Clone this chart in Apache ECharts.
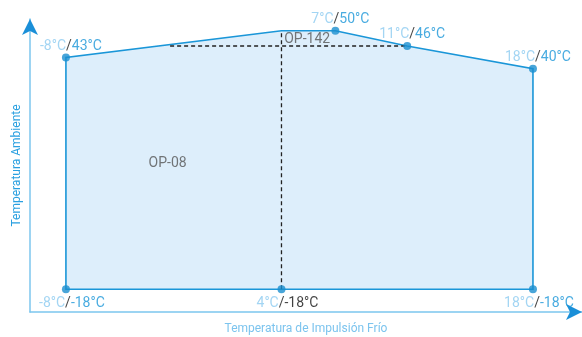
<!DOCTYPE html>
<html>
<head>
<meta charset="utf-8">
<script src="https://cdn.jsdelivr.net/npm/echarts@6/dist/echarts.min.js"></script>
<style>
  html, body { margin: 0; padding: 0; background: #fff; }
  #box1 { width: 582px; height: 337px; }
</style>
</head>
<body>
<div id="box1"></div>
<script>
// envelope vertices: temperatura de impulsión (x) / temperatura ambiente (y)
var envX = [-8, -8, 4, 7, 11, 18, 18, 4];
var envY = [-18, 43, 50, 50, 46, 40, -18, -18];
// vertices that carry a dot and a label
var markIdx = [0, 1, 3, 4, 5, 6, 7];
// dashed guides
var guideV = [[4, -18], [4, 50]];
var guideH = [[-2.2, 46], [11, 46]];
// zone names
var zoneNames = ['OP-142', 'OP-08'];
var zoneX = [4.15, -3.4];
var zoneY = [47.6, 15.2];

var chartDom = document.getElementById('box1');
var myChart = echarts.init(chartDom);
var fontFam = 'Roboto, "Noto Sans", sans-serif';
var lineBlue = '#1a96d8';
var xMin = -10, xMax = 20.73, yMin = -24, yMax = 53.1;

var markData = markIdx.map(function (i) {
    return { value: [envX[i], envY[i]], top: envY[i] > 0, dark: envX[i] === guideV[0][0] };
});

function hidden() {
    return { axisTick: { show: false }, axisLabel: { show: false }, splitLine: { show: false } };
}
function mkAxis(base, extra) {
    return Object.assign(hidden(), base, extra);
}

var option = {
    animation: false,
    grid: { left: 30, right: 0, top: 19, bottom: 25, containLabel: false, outerBoundsMode: 'none' },
    xAxis: [
        mkAxis({ type: 'value', min: xMin, max: xMax }, {
            name: 'Temperatura de Impulsión Frío',
            nameLocation: 'middle', nameGap: 11,
            nameTextStyle: { color: '#7cc4ee', fontSize: 12, fontFamily: fontFam },
            axisLine: { show: true, onZero: false, lineStyle: { color: '#7cc6ee', width: 1.5 } }
        }),
        mkAxis({ type: 'value', min: xMin, max: xMax, position: 'bottom' }, {
            axisLine: { show: true, onZero: false, symbol: ['none', 'arrow'], symbolSize: [12, 16], lineStyle: { color: '#1a8fd8', width: 0 } }
        })
    ],
    yAxis: [
        mkAxis({ type: 'value', min: yMin, max: yMax }, {
            name: 'Temperatura Ambiente',
            nameLocation: 'middle', nameGap: 7,
            nameTextStyle: { color: '#2aa0e0', fontSize: 12, fontFamily: fontFam },
            axisLine: { show: true, onZero: false, lineStyle: { color: '#7cc6ee', width: 1.5 } }
        }),
        mkAxis({ type: 'value', min: yMin, max: yMax, position: 'left' }, {
            axisLine: { show: true, onZero: false, symbol: ['none', 'arrow'], symbolSize: [12, 16], lineStyle: { color: '#1a8fd8', width: 0 } }
        })
    ],
    series: [
        {
            type: 'custom',
            z: 1,
            data: [[envX[0], envY[0]]],
            renderItem: function (params, api) {
                var pts = envX.map(function (x, i) { return api.coord([x, envY[i]]); });
                return {
                    type: 'polygon',
                    shape: { points: pts },
                    style: { fill: '#ddeefb', stroke: lineBlue, lineWidth: 1.6 }
                };
            }
        },
        {
            type: 'line', z: 2, symbol: 'none', silent: true,
            data: guideV,
            lineStyle: { color: '#222', width: 1.3, type: [4, 3] }
        },
        {
            type: 'line', z: 2, symbol: 'none', silent: true,
            data: guideH,
            lineStyle: { color: '#222', width: 1.3, type: [4, 3] }
        },
        {
            type: 'scatter', z: 3,
            symbolSize: 0,
            data: zoneNames.map(function (n, i) { return { value: [zoneX[i], zoneY[i]], name: n }; }),
            label: {
                show: true, position: 'right', distance: 0,
                formatter: '{b}', color: '#555', fontSize: 14, fontFamily: fontFam
            }
        },
        {
            type: 'scatter', z: 4,
            symbol: 'circle', symbolSize: 8,
            itemStyle: { color: '#1a8fd0' },
            data: markData.map(function (d) {
                return {
                    value: d.value,
                    label: { position: d.top ? 'top' : 'bottom', distance: d.top ? 0 : 3, offset: d.top ? [5, 0] : [6, 0] }
                };
            }),
            label: {
                show: true,
                fontFamily: fontFam, fontSize: 14,
                formatter: function (p) {
                    var d = markData[p.dataIndex];
                    var v = d.dark ? '{k|' + d.value[1] + '°C}' : '{b|' + d.value[1] + '°C}';
                    return '{a|' + d.value[0] + '°C}{k|/}' + v;
                },
                rich: {
                    a: { color: '#8ccbf0', fontSize: 14, fontFamily: fontFam },
                    k: { color: '#111', fontSize: 14, fontFamily: fontFam },
                    b: { color: '#1a96d8', fontSize: 14, fontFamily: fontFam }
                }
            }
        }
    ]
};

myChart.setOption(option);
</script>
</body>
</html>
